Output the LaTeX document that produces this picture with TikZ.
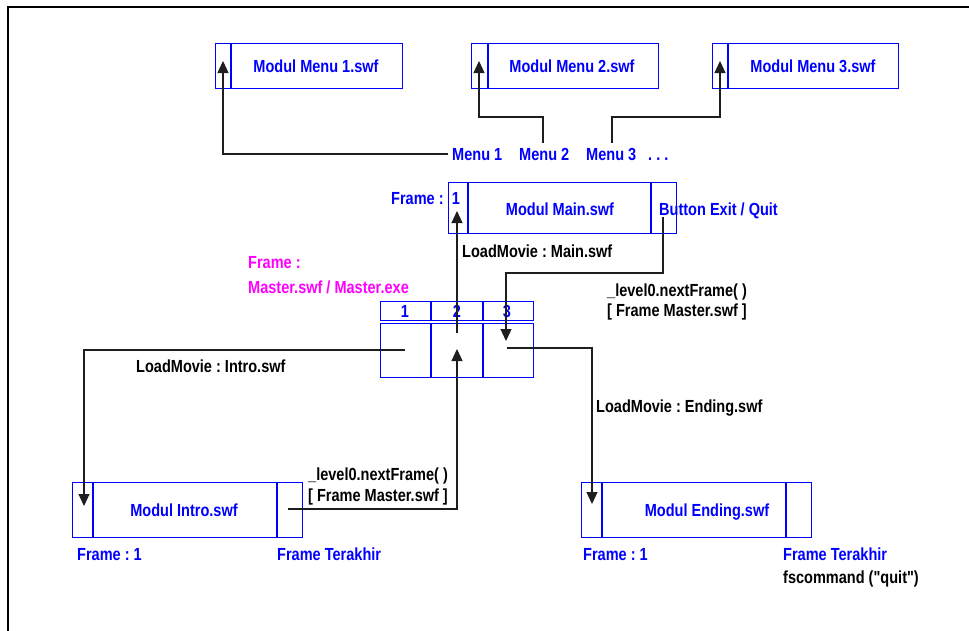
\documentclass[tikz,border=0pt]{standalone}
\usepackage{fontspec}
\setmainfont[FakeStretch=0.83,Ligatures=TeXOff]{Liberation Sans}
\usetikzlibrary{arrows.meta}
\definecolor{bl}{RGB}{0,0,255}
\definecolor{mg}{RGB}{255,0,255}
\definecolor{ln}{RGB}{30,30,30}
\frenchspacing
\begin{document}
\begin{tikzpicture}[x=1pt,y=-1pt,
  box/.style={draw=bl,line width=1.3pt,inner sep=0pt,anchor=north west},
  div/.style={draw=bl,line width=1.3pt},
  txt/.style={inner sep=0pt,text height=12.5pt,text depth=0pt,font=\fontsize{17.5}{19}\selectfont\bfseries},
  btxt/.style={txt,text=bl},
  ktxt/.style={txt,text=black},
  mtxt/.style={txt,text=mg},
  conn/.style={draw=ln,line width=1.2pt},
  arr/.style={conn,-{Triangle[width=11pt,length=12pt]}}]
\useasboundingbox (0,0) rectangle (969,630);
% outer frame
\draw[line width=2.5pt] (8,632) -- (8,7) -- (971,7);

% menu boxes
\node[box,minimum width=187pt,minimum height=45pt] (m1) at (215,43) {};
\draw[div] (231,43) -- (231,88);
\node[btxt] (m1t) at (316,66) {Modul Menu 1.swf};
\node[box,minimum width=187pt,minimum height=45pt] (m2) at (471,43) {};
\draw[div] (488,43) -- (488,88);
\node[btxt] (m2t) at (572,66) {Modul Menu 2.swf};
\node[box,minimum width=186pt,minimum height=45pt] (m3) at (712,43) {};
\draw[div] (728,43) -- (728,88);
\node[btxt] (m3t) at (813,66) {Modul Menu 3.swf};
\coordinate (m1in) at (223,61);
\coordinate (m2in) at (479,61);
\coordinate (m3in) at (720,61);

% menu labels
\node[btxt,anchor=west] (t1) at (452,154) {Menu 1};
\node[btxt,anchor=west] (t2) at (519,154) {Menu 2};
\node[btxt,anchor=west] (t3) at (586,154) {Menu 3};
\node[btxt,anchor=west] (tdots) at (648,154) {. . .};
\coordinate (t2top) at (543,143);
\coordinate (t3top) at (612,143);

\draw[arr] ([xshift=-4pt]t1.west) -| (m1in);
\draw[arr] (t2top) -- (543,117) -| (m2in);
\draw[arr] (t3top) -- (612,117) -| (m3in);

% main box
\node[box,minimum width=228pt,minimum height=51pt] (main) at (448,182) {};
\draw[div] (468,182) -- (468,233);
\draw[div] (651,182) -- (651,233);
\node[btxt,anchor=west] (fr) at (391,198) {Frame :};
\node[btxt] (f1) at (456,198) {1};
\node[btxt] (maint) at (560,209) {Modul Main.swf};
\node[btxt,anchor=west] (exit) at (659,209) {Button Exit / Quit};
\node[ktxt,anchor=west] (lmmain) at (462,251) {LoadMovie : Main.swf};
\coordinate (mainin) at (457,211);
\coordinate (exitout) at (663,217);

% master
\node[mtxt,anchor=west] (mf) at (248,262) {Frame :};
\node[mtxt,anchor=west] (mm) at (248,287) {Master.swf / Master.exe};
\node[box,minimum width=153pt,minimum height=19pt] (hdr) at (380,301) {};
\draw[div] (431,301) -- (431,320);
\draw[div] (483,301) -- (483,320);
\node[box,minimum width=153pt,minimum height=54pt] (cells) at (380,323) {};
\draw[div] (431,323) -- (431,377);
\draw[div] (483,323) -- (483,377);
\node[btxt] (h1) at (405,311) {1};
\node[btxt] (h2) at (457,311) {2};
\node[btxt] (h3) at (507,311) {3};
\coordinate (c1) at (405,350);
\coordinate (c2top) at (457,333);
\coordinate (c2in) at (457,349);
\coordinate (c3in) at (506,341);
\coordinate (c3out) at (507,348);

\node[ktxt,anchor=west] (nf1) at (607,290) {\_level0.nextFrame( )};
\node[ktxt,anchor=west] (nf1b) at (607,310) {[ Frame Master.swf ]};

\draw[arr] (c2top) -- (mainin);
\draw[arr] (exitout) -- (663,273) -| (c3in);

% intro
\node[ktxt,anchor=west] (lmintro) at (136,366) {LoadMovie : Intro.swf};
\node[box,minimum width=230pt,minimum height=55pt] (intro) at (72,482) {};
\draw[div] (93,482) -- (93,537);
\draw[div] (277,482) -- (277,537);
\node[btxt] (introt) at (184,510) {Modul Intro.swf};
\node[ktxt,anchor=west] (nf2) at (308,474) {\_level0.nextFrame( )};
\node[ktxt,anchor=west] (nf2b) at (308,495) {[ Frame Master.swf ]};
\node[btxt,anchor=west] (if1) at (77,554) {Frame : 1};
\node[btxt,anchor=west] (ift) at (277,554) {Frame Terakhir};
\coordinate (introin) at (84,506);
\coordinate (introout) at (288,509);

\draw[arr] (c1) -| (introin);
\draw[arr] (introout) -| (c2in);

% ending
\node[ktxt,anchor=west] (lmend) at (596,406) {LoadMovie : Ending.swf};
\node[box,minimum width=230pt,minimum height=55pt] (ending) at (581,482) {};
\draw[div] (602,482) -- (602,537);
\draw[div] (786,482) -- (786,537);
\node[btxt] (endt) at (707,510) {Modul Ending.swf};
\node[btxt,anchor=west] (ef1) at (583,554) {Frame : 1};
\node[btxt,anchor=west] (eft) at (783,554) {Frame Terakhir};
\node[ktxt,anchor=west] (fsc) at (783,577) {fscommand ("quit")};
\coordinate (endin) at (592,504);

\draw[arr] (c3out) -| (endin);
\end{tikzpicture}
\end{document}
